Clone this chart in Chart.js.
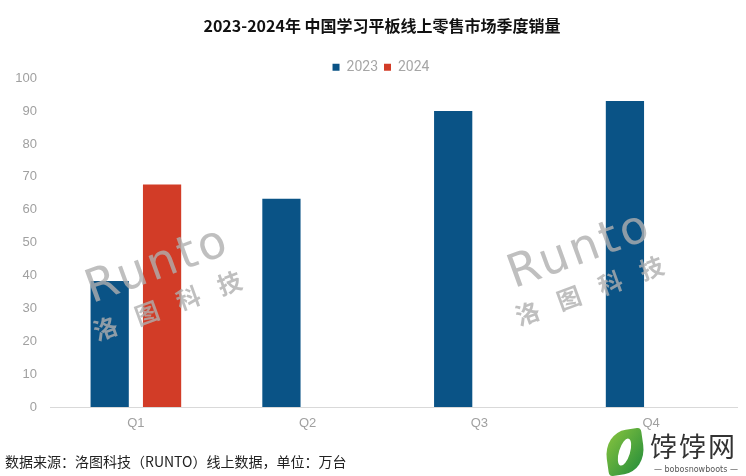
<!DOCTYPE html>
<html>
<head>
<meta charset="utf-8">
<script src="https://cdn.jsdelivr.net/npm/chart.js@4/dist/chart.umd.min.js"></script>
<style>
  body { margin: 0; background: #fff; }
  #wrap { position: relative; width: 746px; height: 476px; }
  #note { position: absolute; left: 5px; top: 451px; font: 14px "Noto Sans CJK SC", sans-serif; color: #222; }
  #logo { position: absolute; left: 600px; top: 428px; width: 146px; height: 48px; }
  #leaf { position: absolute; left: 6px; top: 2px; width: 38px; height: 44px; border-radius: 60% 10% 60% 10%;
          background: linear-gradient(135deg, #8cc63f, #1f8a3a); transform: rotate(-8deg); }
  #leaf:after { content: ""; position: absolute; left: 13px; top: 8px; width: 11px; height: 28px; border-radius: 50%;
          background: #fff; transform: rotate(25deg); }
  #site { position: absolute; left: 50px; top: -2px; font: 27px "Noto Sans CJK SC", sans-serif; color: #333; letter-spacing: 2px; }
  #url { position: absolute; left: 54px; top: 37px; font: 8px "DejaVu Sans", sans-serif; color: #555; }
</style>
</head>
<body>
<div id="wrap">
  <canvas id="salesChart" width="746" height="476"></canvas>
  <div id="note">数据来源：洛图科技（RUNTO）线上数据，单位：万台</div>
  <div id="logo"><div id="leaf"></div><div id="site">饽饽网</div><div id="url">— bobosnowboots —</div></div>
</div>
<script>
var quarters = ["Q1", "Q2", "Q3", "Q4"];
var sales2023 = [38.3, 63.3, 90, 93.1];
var sales2024 = [67.7, null, null, null];
var yTicks = [0, 10, 20, 30, 40, 50, 60, 70, 80, 90, 100];

var tickFont = { family: '"Liberation Sans", Arial, sans-serif', size: 13 };

// nudge header: title/legend a bit right, legend a bit lower
var header = {
    id: 'header',
    afterLayout: function (chart) {
        var t = chart.titleBlock, l = chart.legend;
        if (t) { t.left += 6; t.right += 6; }
        if (l) { l.left += 5; l.right += 5; l.top += 6; l.bottom += 6; }
    }
};

function drawMark(ctx, x, y) {
    ctx.save();
    ctx.translate(x, y);
    ctx.rotate(-20 * Math.PI / 180);
    ctx.fillStyle = 'rgba(175,175,175,0.8)';
    ctx.font = '46px "DejaVu Sans", sans-serif';
    ctx.letterSpacing = '3px';
    ctx.fillText('Runto', 0, 0);
    ctx.letterSpacing = '0px';
    ctx.font = 'bold 24px "Noto Sans CJK SC", sans-serif';
    var chars = ['洛', '图', '科', '技'];
    for (var i = 0; i < chars.length; i++) {
        ctx.fillText(chars[i], -8 + i * 44, 40);
    }
    ctx.restore();
}

var watermark = {
    id: 'watermark',
    afterDatasetsDraw: function (chart) {
        drawMark(chart.ctx, 88, 292);
        drawMark(chart.ctx, 510, 277);
    }
};

new Chart(document.getElementById("salesChart"), {
    type: 'bar',
    data: {
        labels: quarters,
        datasets: [
            { label: '2023', data: sales2023, backgroundColor: '#0a5386', categoryPercentage: 0.61, barPercentage: 0.73 },
            { label: '2024', data: sales2024, backgroundColor: '#d23c27', categoryPercentage: 0.61, barPercentage: 0.73 }
        ]
    },
    options: {
        responsive: false,
        animation: false,
        layout: { padding: { left: 15, right: 9, top: 0, bottom: 44 } },
        plugins: {
            title: {
                display: true,
                text: '2023-2024年 中国学习平板线上零售市场季度销量',
                color: '#111',
                font: { family: '"Noto Sans CJK SC", sans-serif', size: 16, weight: 'bold' },
                padding: { top: 16, bottom: 13 }
            },
            legend: {
                labels: {
                    boxWidth: 7, boxHeight: 7, padding: 6,
                    color: '#a6a6a6',
                    font: { family: 'Roboto, sans-serif', size: 14 }
                }
            },
            tooltip: { enabled: false }
        },
        scales: {
            x: {
                grid: { display: false, drawTicks: false },
                border: { color: '#d9d9d9' },
                ticks: { color: '#a0a0a0', padding: 9, font: tickFont },
                afterFit: function (scale) { scale.height = 25; }
            },
            y: {
                min: 0, max: 100,
                afterBuildTicks: function (axis) { axis.ticks = yTicks.map(function (v) { return { value: v }; }); },
                grid: { display: false, drawTicks: false },
                border: { display: false },
                ticks: { color: '#a0a0a0', padding: 13, font: tickFont },
                afterFit: function (scale) { scale.width = 35; }
            }
        }
    },
    plugins: [header, watermark]
});
</script>
</body>
</html>
